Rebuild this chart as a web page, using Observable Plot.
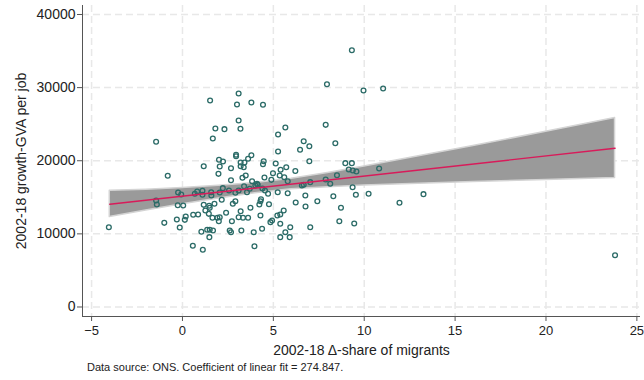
<!DOCTYPE html>
<html><head><meta charset="utf-8">
<script src="https://cdn.jsdelivr.net/npm/d3@7"></script>
<script src="https://cdn.jsdelivr.net/npm/@observablehq/plot@0.6"></script>
<style>
body{margin:0;background:#fff;font-family:"Liberation Sans",Arial,sans-serif}
#cap{font-size:11px;color:#222;margin:0 0 0 87px;line-height:14px}
</style>
</head><body>
<div id="chart"></div>
<div id="cap">Data source: ONS. Coefficient of linear fit = 274.847.</div>
<script>
// scatter: change in share of migrants (x) vs growth in GVA per job (y)
const shareX = [1.52,1.81,1.67,-1.45,2.01,1.17,2.05,-0.81,1.98,-0.24,-0.07,-1.45,-1.41,0.68,0.81,1.10,1.58,1.59,-0.26,0.04,1.17,1.47,1.50,1.76,1.26,1.45,1.65,1.92,0.18,0.13,0.59,0.86,-0.31,-1.00,-0.15,1.04,1.36,1.50,1.68,1.48,0.57,-4.05,1.12,
7.95,3.09,3.79,3.00,4.43,3.09,7.88,2.31,3.19,5.66,5.26,6.67,6.98,6.47,5.26,2.95,2.95,3.79,2.23,2.67,3.20,3.41,3.61,3.20,4.47,4.43,5.13,5.40,5.71,6.98,6.21,
3.37,2.67,3.30,3.48,3.83,4.10,4.51,4.98,5.35,5.60,5.79,4.89,3.39,3.70,4.01,4.14,4.40,4.54,4.71,5.24,5.79,7.03,6.76,7.42,6.23,6.77,2.05,2.22,2.56,2.91,3.09,3.55,2.16,2.77,2.91,3.74,4.29,4.32,4.23,4.76,5.38,5.57,5.22,2.40,3.20,4.29,2.05,2.00,2.72,3.09,3.33,3.61,4.84,4.93,5.38,5.93,7.03,2.60,2.67,3.24,3.92,4.38,5.66,5.38,5.90,3.96,
9.32,9.96,11.04,8.41,8.96,9.32,9.15,9.37,9.57,8.50,10.82,7.88,8.13,6.57,6.67,9.36,8.30,9.54,10.24,11.94,13.26,8.72,8.63,9.45,23.8,1.10];
const gvaY = [28240,24410,23040,22590,20130,19250,19210,17940,18210,15660,15380,14560,14020,15480,15790,15340,15700,15250,13920,13880,13970,13840,13560,14110,13190,12740,12200,12200,12380,11920,12610,12650,11970,11510,10870,10280,10560,10560,10460,9550,8370,10910,7820,
30470,29200,27970,27690,27650,25500,24910,24320,24370,24550,23590,22670,21990,21500,21260,20810,20620,20760,19900,18980,19760,19760,20270,19250,19940,19530,19620,18760,19120,19940,18600,
19120,17340,17670,17980,17200,16850,17710,18300,17980,17750,17200,17390,16520,16160,16610,16710,16200,15930,15480,15700,15560,17070,15250,14470,14290,13740,15660,16250,15930,15620,15930,15700,14660,14110,14470,13570,14470,14740,14020,14060,12650,13200,12510,12880,13100,12510,12280,11730,11730,12280,12200,12200,11600,11830,11380,10910,10910,10460,10230,10460,10230,10690,10230,9550,9550,8310,
35120,29610,29880,22400,19670,19670,18800,18670,18530,18020,18940,17440,16850,16610,16710,16380,15150,15340,15480,14250,15430,13570,11730,11420,7080,15900];

// 95% confidence band of the linear fit
const bandX    = [-4, -2, 0, 2, 4, 6, 8, 10, 13, 16, 20, 23.8];
const bandLow  = [12300,13190,14060,14830,15560,16090,16390,16610,16860,17110,17360,17650];
const bandHigh = [15880,16030,16260,16590,16960,17530,18330,19210,20600,22010,23960,25850];

// fitted line end points
const fitX = [-4, 23.8];
const fitY = [14060, 21700];

const xTicks = [-5, 0, 5, 10, 15, 20, 25];
const yTicks = [0, 10000, 20000, 30000, 40000];

const xMin = -5.5, xMax = 25.2, yMin = -1300, yMax = 41230;
const axisColor = "#555";
const gridStyle = {stroke: "#e8e8e8", strokeOpacity: 1, strokeWidth: 1.5, strokeDasharray: "7,4"};

const chart = Plot.plot({
  width: 644, height: 360,
  marginLeft: 82, marginRight: 4, marginTop: 5, marginBottom: 44,
  style: {fontFamily: "'Liberation Sans', Arial, sans-serif", fontSize: "14px", color: "#222", background: "#fff"},
  x: {domain: [xMin, xMax]},
  y: {domain: [yMin, yMax]},
  marks: [
    Plot.gridX(xTicks, gridStyle),
    Plot.gridY(yTicks, gridStyle),
    Plot.areaY(bandX, {x: bandX, y1: bandLow, y2: bandHigh, fill: "#9a9a9a", stroke: "#d4d4d4", strokeWidth: 1.5}),
    Plot.dot(shareX, {x: shareX, y: gvaY, r: 2.4, fill: "none", stroke: "#2b6b67", strokeWidth: 1.3}),
    Plot.line(fitX, {x: fitX, y: fitY, stroke: "#d81b5a", strokeWidth: 1.4}),
    Plot.ruleX([xMin], {stroke: axisColor}),
    Plot.ruleY([yMin], {stroke: axisColor}),
    Plot.axisX(xTicks, {tickSize: 5, tickPadding: 4, stroke: axisColor, fontSize: 13, label: null}),
    Plot.axisX({ticks: [], tickSize: 0, fontSize: 14, label: "2002-18 Δ-share of migrants", labelAnchor: "center", labelArrow: "none", labelOffset: 38}),
    Plot.axisY(yTicks, {tickSize: 5, tickPadding: 2, stroke: axisColor, fontSize: 14, tickFormat: d => String(d), label: null}),
    Plot.axisY({ticks: [], tickSize: 0, fontSize: 14, label: "2002-18 growth-GVA per job", labelAnchor: "center", labelArrow: "none", labelOffset: 66})
  ]
});
document.getElementById("chart").appendChild(chart);
</script>
</body></html>
